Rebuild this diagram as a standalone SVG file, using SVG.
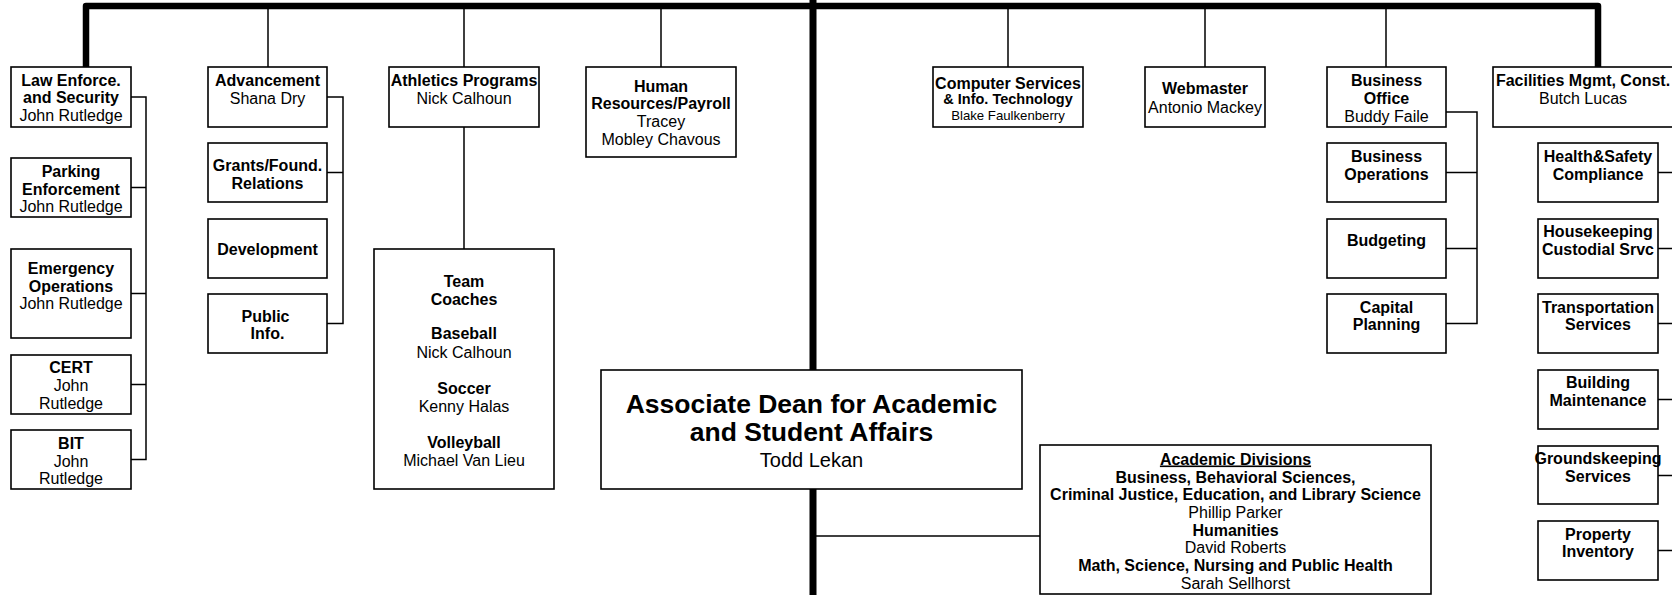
<svg xmlns="http://www.w3.org/2000/svg" width="1672" height="595" viewBox="0 0 1672 595">
<style>
.bx{fill:#fff;stroke:#000;stroke-width:1.6}
.ln{fill:none;stroke:#000;stroke-width:1.5}
.tk{fill:none;stroke:#000;stroke-width:6.5;stroke-linejoin:round}
text{font-family:"Liberation Sans",Arial,sans-serif;font-size:16px;text-anchor:middle;fill:#000}
.b{font-weight:bold}
.s{font-size:14.5px;font-weight:bold}
.xs{font-size:13.2px}
.big{font-size:26.5px;font-weight:bold}
.md{font-size:20px}
</style>
<rect width="1672" height="595" fill="#fff"/>
<g id="connectors">
<path class="tk" d="M86 67 V6 H1598 V67"/>
<path d="M813 0 V595" stroke="#000" stroke-width="7" fill="none"/>
<path class="ln" d="M268 6 V67 M464 6 V67 M464 127 V249 M661 6 V67 M1008 6 V67 M1205 6 V67 M1386 6 V67"/>
<path class="ln" d="M131 97 H146 V459.5 H131 M131 187.5 H146 M131 293.5 H146 M131 384.5 H146"/>
<path class="ln" d="M327 97 H343 V323.5 H327 M327 172.5 H343"/>
<path class="ln" d="M1446 112 H1477 V323.5 H1446 M1446 172.5 H1477 M1446 248.5 H1477"/>
<path class="ln" d="M1658 172.5 H1672 M1658 248.5 H1672 M1658 323.5 H1672 M1658 399.5 H1672 M1658 475.5 H1672 M1658 550.5 H1672"/>
<path class="ln" d="M813 536 H1040"/>
</g>
<g id="law">
<rect class="bx" x="11" y="67" width="120" height="60"/>
<text x="71" y="85.5" class="b">Law Enforce.</text>
<text x="71" y="103" class="b">and Security</text>
<text x="71" y="121">John Rutledge</text>
</g>
<g id="parking">
<rect class="bx" x="11" y="158" width="120" height="59"/>
<text x="71" y="176.5" class="b">Parking</text>
<text x="71" y="194.5" class="b">Enforcement</text>
<text x="71" y="211.5">John Rutledge</text>
</g>
<g id="emergency">
<rect class="bx" x="11" y="249" width="120" height="89"/>
<text x="71" y="273.5" class="b">Emergency</text>
<text x="71" y="291.5" class="b">Operations</text>
<text x="71" y="308.5">John Rutledge</text>
</g>
<g id="cert">
<rect class="bx" x="11" y="355" width="120" height="59"/>
<text x="71" y="372.5" class="b">CERT</text>
<text x="71" y="390.5">John</text>
<text x="71" y="408.5">Rutledge</text>
</g>
<g id="bit">
<rect class="bx" x="11" y="430" width="120" height="59"/>
<text x="71" y="448.5" class="b">BIT</text>
<text x="71" y="466.5">John</text>
<text x="71" y="483.5">Rutledge</text>
</g>
<g id="advancement">
<rect class="bx" x="208" y="67" width="119" height="60"/>
<text x="267.5" y="85.5" class="b">Advancement</text>
<text x="267.5" y="103.5">Shana Dry</text>
</g>
<g id="grants">
<rect class="bx" x="208" y="143" width="119" height="59"/>
<text x="267.5" y="170.5" class="b">Grants/Found.</text>
<text x="267.5" y="188.5" class="b">Relations</text>
</g>
<g id="development">
<rect class="bx" x="208" y="219" width="119" height="59"/>
<text x="267.5" y="254.5" class="b">Development</text>
</g>
<g id="public">
<rect class="bx" x="208" y="294" width="119" height="59"/>
<text x="265.5" y="321.5" class="b">Public</text>
<text x="267.5" y="339" class="b">Info.</text>
</g>
<g id="athletics">
<rect class="bx" x="389" y="67" width="150" height="60"/>
<text x="464" y="85.5" class="b">Athletics Programs</text>
<text x="464" y="103.5">Nick Calhoun</text>
</g>
<g id="coaches">
<rect class="bx" x="374" y="249" width="180" height="240"/>
<text x="464" y="286.5" class="b">Team</text>
<text x="464" y="304.5" class="b">Coaches</text>
<text x="464" y="339" class="b">Baseball</text>
<text x="464" y="357.5">Nick Calhoun</text>
<text x="464" y="393.5" class="b">Soccer</text>
<text x="464" y="411.5">Kenny Halas</text>
<text x="464" y="447.5" class="b">Volleyball</text>
<text x="464" y="465.5">Michael Van Lieu</text>
</g>
<g id="hr">
<rect class="bx" x="586" y="67" width="150" height="90"/>
<text x="661" y="91.5" class="b">Human</text>
<text x="661" y="109" class="b">Resources/Payroll</text>
<text x="661" y="127">Tracey</text>
<text x="661" y="144.5">Mobley Chavous</text>
</g>
<g id="dean">
<rect class="bx" x="601" y="370" width="421" height="119"/>
<text x="811.5" y="412.5" class="big">Associate Dean for Academic</text>
<text x="811.5" y="441" class="big">and Student Affairs</text>
<text x="811.5" y="466.5" class="md">Todd Lekan</text>
</g>
<g id="academic">
<rect class="bx" x="1040" y="445" width="391" height="149"/>
<text x="1235.5" y="464.5" class="b" text-decoration="underline">Academic Divisions</text>
<text x="1235.5" y="482.5" class="b">Business, Behavioral Sciences,</text>
<text x="1235.5" y="499.5" class="b">Criminal Justice, Education, and Library Science</text>
<text x="1235.5" y="517.5">Phillip Parker</text>
<text x="1235.5" y="535.5" class="b">Humanities</text>
<text x="1235.5" y="553">David Roberts</text>
<text x="1235.5" y="571" class="b">Math, Science, Nursing and Public Health</text>
<text x="1235.5" y="588.5">Sarah Sellhorst</text>
</g>
<g id="computer">
<rect class="bx" x="933" y="67" width="150" height="60"/>
<text x="1008" y="88.5" class="b">Computer Services</text>
<text x="1008" y="104" class="s">&amp; Info. Technology</text>
<text x="1008" y="119.5" class="xs">Blake Faulkenberry</text>
</g>
<g id="webmaster">
<rect class="bx" x="1145" y="67" width="120" height="60"/>
<text x="1205" y="93.5" class="b">Webmaster</text>
<text x="1205" y="112.5">Antonio Mackey</text>
</g>
<g id="business-office">
<rect class="bx" x="1327" y="67" width="119" height="60"/>
<text x="1386.5" y="85.5" class="b">Business</text>
<text x="1386.5" y="103.5" class="b">Office</text>
<text x="1386.5" y="121.5">Buddy Faile</text>
</g>
<g id="business-ops">
<rect class="bx" x="1327" y="143" width="119" height="59"/>
<text x="1386.5" y="161.5" class="b">Business</text>
<text x="1386.5" y="179.5" class="b">Operations</text>
</g>
<g id="budgeting">
<rect class="bx" x="1327" y="219" width="119" height="59"/>
<text x="1386.5" y="245.5" class="b">Budgeting</text>
</g>
<g id="capital">
<rect class="bx" x="1327" y="294" width="119" height="59"/>
<text x="1386.5" y="312.5" class="b">Capital</text>
<text x="1386.5" y="330" class="b">Planning</text>
</g>
<g id="facilities">
<rect class="bx" x="1493" y="67" width="181" height="60"/>
<text x="1583" y="85.5" class="b">Facilities Mgmt, Const.</text>
<text x="1583" y="103.5">Butch Lucas</text>
</g>
<g id="health">
<rect class="bx" x="1538" y="143" width="120" height="59"/>
<text x="1598" y="161.5" class="b">Health&amp;Safety</text>
<text x="1598" y="179.5" class="b">Compliance</text>
</g>
<g id="housekeeping">
<rect class="bx" x="1538" y="219" width="120" height="59"/>
<text x="1598" y="236.5" class="b">Housekeeping</text>
<text x="1598" y="254.5" class="b">Custodial Srvc</text>
</g>
<g id="transportation">
<rect class="bx" x="1538" y="294" width="120" height="59"/>
<text x="1598" y="312.5" class="b">Transportation</text>
<text x="1598" y="330" class="b">Services</text>
</g>
<g id="building">
<rect class="bx" x="1538" y="370" width="120" height="59"/>
<text x="1598" y="387.5" class="b">Building</text>
<text x="1598" y="405.5" class="b">Maintenance</text>
</g>
<g id="grounds">
<rect class="bx" x="1538" y="446" width="120" height="58"/>
<text x="1598" y="463.5" class="b">Groundskeeping</text>
<text x="1598" y="481.5" class="b">Services</text>
</g>
<g id="property">
<rect class="bx" x="1538" y="521" width="120" height="59"/>
<text x="1598" y="539.5" class="b">Property</text>
<text x="1598" y="556.5" class="b">Inventory</text>
</g>
</svg>
